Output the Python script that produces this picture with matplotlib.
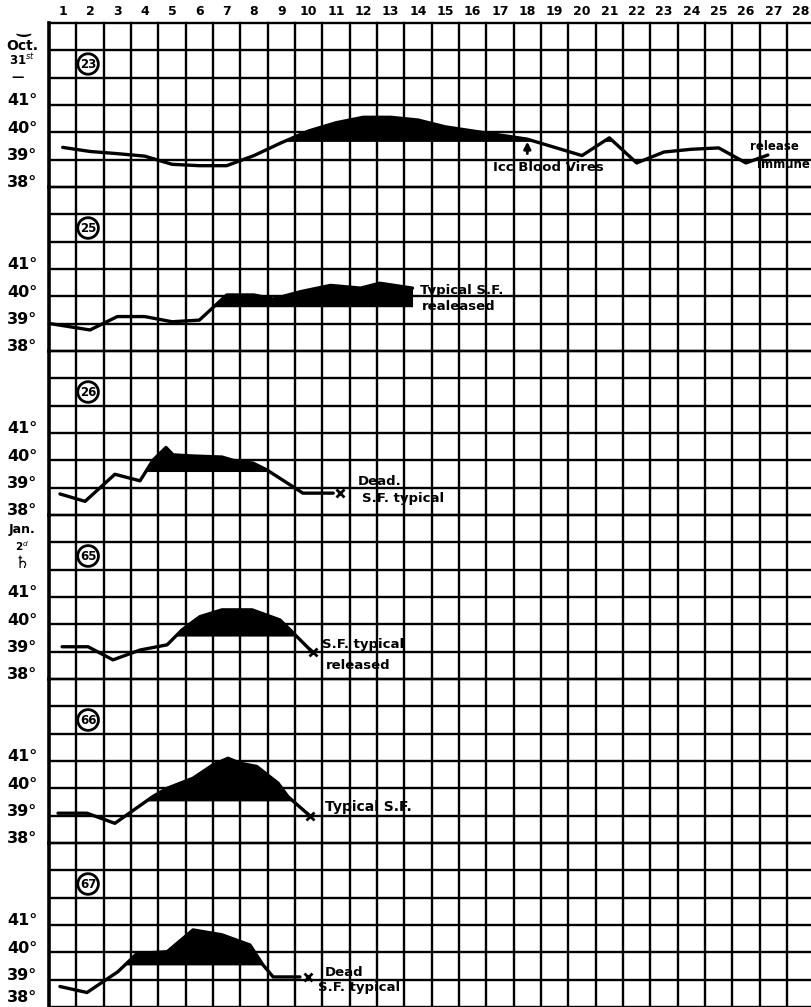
import matplotlib
matplotlib.use("Agg")
import matplotlib.pyplot as plt
import numpy as np

W, H = 811, 1007
GX0, GY0 = 49, 23          # grid origin in px
CELL = 984 / 36            # one day / one degree

days = list(range(1, 29))
temp_labels = [41, 40, 39, 38]
panel_ids = ["23", "25", "26", "65", "66", "67"]

# temperature traces (day, deg C)
p23_x = [1, 2, 3, 4, 5, 6, 7, 8, 9, 10, 11, 12, 13, 14, 15, 16, 17, 18, 19, 20, 21, 22, 23, 24, 25, 26, 26.8]
p23_t = [39.45, 39.3, 39.22, 39.13, 38.83, 38.78, 38.78, 39.15, 39.62, 40.05, 40.35, 40.55, 40.55, 40.45,
         40.2, 40.05, 39.9, 39.75, 39.45, 39.15, 39.8, 38.88, 39.28, 39.38, 39.43, 38.88, 39.17]
p25_x = [0.55, 2, 3, 4, 5, 6, 7, 8, 8.7, 9.7, 10.8, 11.9, 12.6, 13.8]
p25_t = [39.0, 38.77, 39.26, 39.26, 39.07, 39.13, 40.05, 40.05, 39.9, 40.17, 40.4, 40.3, 40.48, 40.3]
p26_x = [0.9, 1.82, 2.91, 3.83, 4.3, 4.78, 5.04, 5.73, 6.83, 7.23, 7.96, 8.47, 9.79, 10.9]
p26_t = [38.77, 38.5, 39.49, 39.25, 40.0, 40.47, 40.2, 40.16, 40.12, 40.0, 39.9, 39.65, 38.8, 38.8]
p65_x = [0.98, 1.93, 2.84, 3.83, 4.82, 5.37, 6.02, 6.83, 7.93, 8.95, 9.32, 10.12]
p65_t = [39.18, 39.18, 38.7, 39.06, 39.25, 39.8, 40.28, 40.53, 40.53, 40.16, 39.8, 39.0]
p66_x = [0.83, 1.89, 2.91, 4.3, 4.82, 5.77, 6.5, 7.05, 7.49, 8.1, 8.88, 9.24, 10.05]
p66_t = [39.09, 39.09, 38.72, 39.7, 40.0, 40.37, 40.86, 41.1, 40.92, 40.8, 40.19, 39.7, 38.99]
p67_x = [0.9, 1.89, 3.02, 3.72, 4.82, 5.77, 6.83, 7.85, 8.33, 8.7, 9.68]
p67_t = [38.75, 38.53, 39.29, 39.96, 40.02, 40.82, 40.64, 40.27, 39.54, 39.1, 39.1]

traces_x = [p23_x, p25_x, p26_x, p65_x, p66_x, p67_x]
traces_t = [p23_t, p25_t, p26_t, p65_t, p66_t, p67_t]
fever_base = [39.65, 39.62, 39.59, 39.57, 39.54, 39.54]

# end crosses (day, temp); None = no cross
end_marks = [None, None, (11.15, 38.8), (10.16, 39.0), (10.05, 38.99), (9.98, 39.1)]

# notes: panel, day, temp, text, size
notes = [
    (0, 16.75, 38.73, "Icc Blood Vires", 9.5),
    (0, 26.15, 39.5, "release", 8.5),
    (0, 26.4, 38.84, "immune", 8.5),
    (1, 14.07, 40.23, "Typical S.F.", 9.5),
    (1, 14.15, 39.61, "realeased", 9.5),
    (2, 11.8, 39.21, "Dead.", 9.5),
    (2, 11.95, 38.62, "S.F. typical", 9.5),
    (3, 10.49, 39.25, "S.F. typical", 9.5),
    (3, 10.64, 38.51, "released", 9.5),
    (4, 10.6, 39.32, "Typical S.F.", 10),
    (5, 10.6, 39.28, "Dead", 9.5),
    (5, 10.34, 38.7, "S.F. typical", 9.5),
]

plt.rcParams["font.family"] = ["DejaVu Sans"]
fig = plt.figure(figsize=(W / 100, H / 100), dpi=100)

def fx(px):
    return px / W

def fy(py):
    return 1 - py / H

axes = []
for k in range(6):
    top = GY0 + 6 * CELL * k
    ax = fig.add_axes([fx(GX0), fy(top + 6 * CELL), (W - GX0) / W, 6 * CELL / H])
    ax.set_xlim(0.5, 0.5 + (W - GX0) / CELL)
    ax.set_ylim(38, 44)
    ax.axis("off")
    for xv in np.arange(0.5, 29, 1):
        ax.axvline(xv, color="k", lw=2.6 if xv == 0.5 else 1.7, clip_on=False, zorder=1)
    for yv in range(38, 45):
        ax.axhline(yv, color="k", lw=1.7, clip_on=False, zorder=1)

    x = np.array(traces_x[k])
    t = np.array(traces_t[k])
    ax.fill_between(x, fever_base[k], t, where=t >= fever_base[k], interpolate=True,
                    color="k", lw=0, zorder=3)
    ax.plot(x, t, color="k", lw=2.4, solid_joinstyle="round", solid_capstyle="round", zorder=4)
    if end_marks[k]:
        ax.plot(*end_marks[k], marker="x", color="k", ms=6, mew=2, zorder=5)

    for T in temp_labels:
        lift = 0.33 if (k == 5 and T == 38) else 0.15
        ax.text((22 - GX0) / (W - GX0), T + lift, f"{T}°", transform=ax.get_yaxis_transform(),
                ha="center", va="center", fontsize=11.5, fontweight="bold", clip_on=False)

    ax.text(1.93, 42.5, panel_ids[k], ha="center", va="center", fontsize=8.5, fontweight="bold",
            zorder=6, bbox=dict(boxstyle="circle,pad=0.18", fc="white", ec="k", lw=2))
    axes.append(ax)

for d in days:
    axes[0].text(d, 44 + 11 / CELL, str(d), ha="center", va="center", fontsize=9,
                 fontweight="bold", clip_on=False)

for k, d, T, s, size in notes:
    axes[k].text(d, T, s, ha="left", va="center", fontsize=size, fontweight="bold",
                 zorder=6, clip_on=False)

# arrow under the blood injection
axes[0].annotate("", xy=(18, 39.66), xytext=(18, 39.22),
                 arrowprops=dict(arrowstyle="-|>", color="k", lw=2, mutation_scale=10,
                                 shrinkA=0, shrinkB=0), zorder=6)

# side notes
fig.text(fx(23), fy(28), "‿", ha="center", va="center", fontsize=12, fontweight="bold")
fig.text(fx(22), fy(46), "Oct.", ha="center", va="center", fontsize=10, fontweight="bold")
fig.text(fx(22), fy(60), "31$^{st}$", ha="center", va="center", fontsize=8.5, fontweight="bold")
fig.text(fx(18), fy(77), "—", ha="center", va="center", fontsize=9, fontweight="bold")
fig.text(fx(22), fy(530), "Jan.", ha="center", va="center", fontsize=9, fontweight="bold")
fig.text(fx(22), fy(546), "2$^{d}$", ha="center", va="center", fontsize=7.5, fontweight="bold")
fig.text(fx(22), fy(563), "♄", ha="center", va="center", fontsize=12, fontweight="bold")

fig.savefig("out.png", dpi=100, facecolor="white")
